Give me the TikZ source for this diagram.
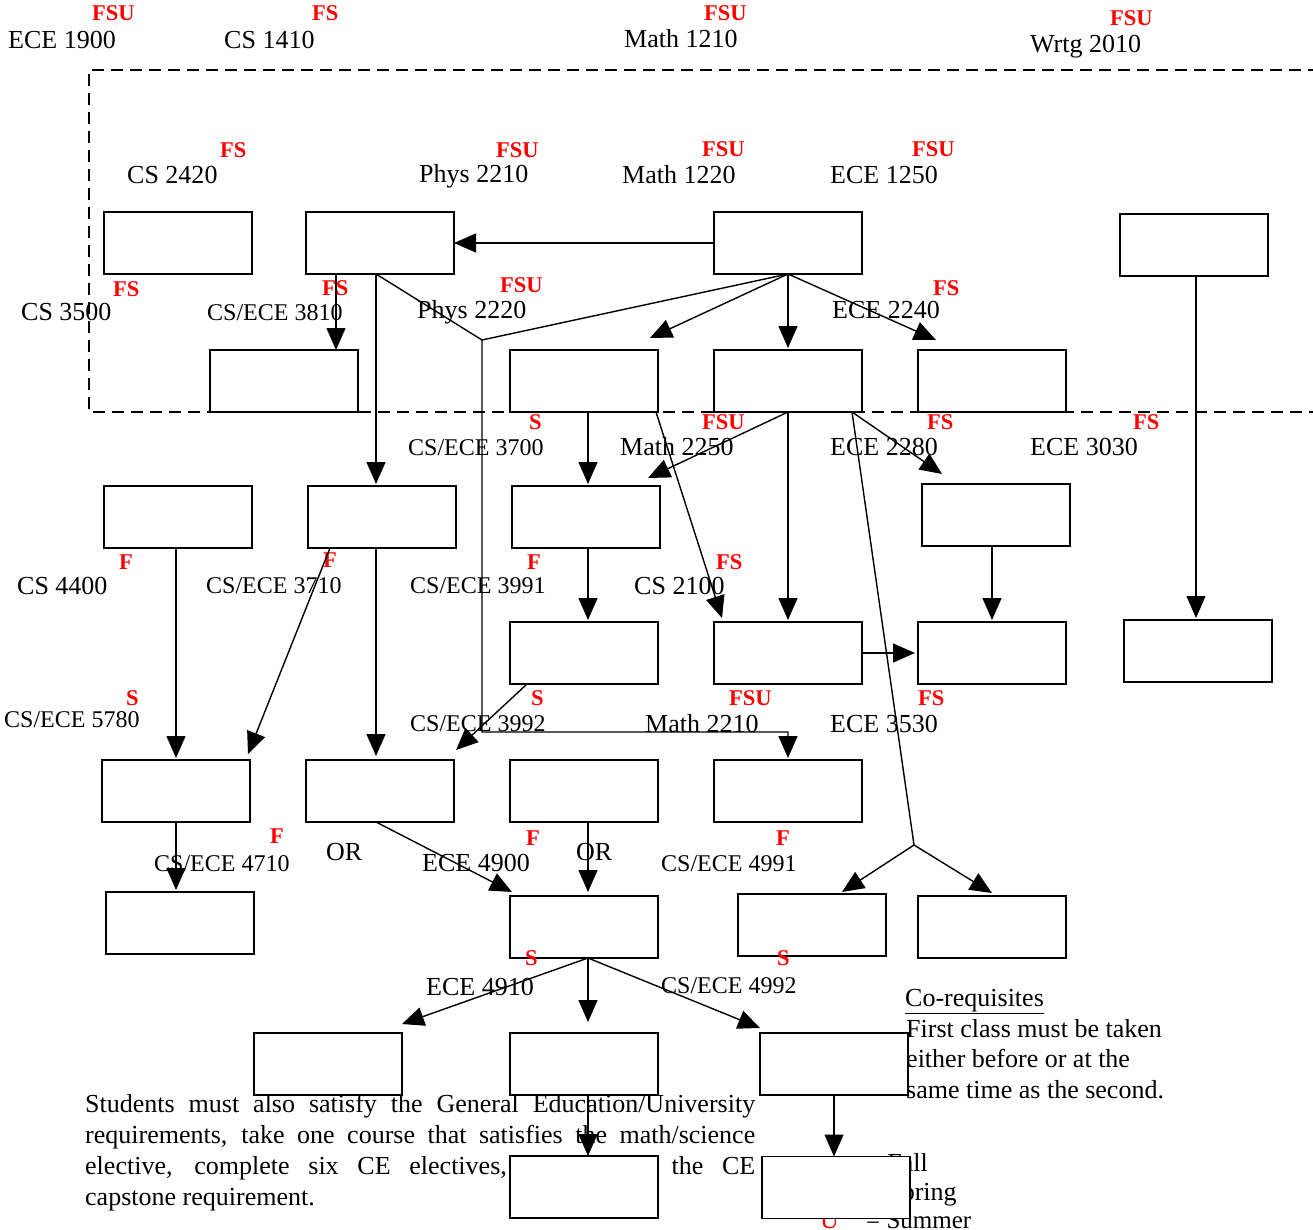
\documentclass[tikz,border=0pt]{standalone}
\usepackage{fontspec}
\setmainfont{Liberation Serif}
\usetikzlibrary{arrows.meta}
\begin{document}
\begin{tikzpicture}[x=1pt,y=-1pt,
 box/.style={draw, line width=1.5pt, fill=white, minimum width=148pt, minimum height=62pt, inner sep=0pt, outer sep=0pt},
 lbl/.style={anchor=base west, inner sep=0pt, font=\fontsize{26}{31}\selectfont},
 slbl/.style={anchor=base west, inner sep=0pt, font=\fontsize{24}{29}\selectfont},
 sem/.style={anchor=base west, inner sep=0pt, text=red, font=\bfseries\fontsize{22.5}{26}\selectfont},
 conn/.style={line width=1.4pt},
 arr/.style={line width=1.4pt, -{Triangle[length=22pt,width=19pt]}},
 frame/.style={line width=1.4pt, dash pattern=on 12pt off 7pt}]
\useasboundingbox (0,0) rectangle (1313,1230);
% dashed frame
\draw[frame] (1320,70) -- (89,70) -- (89,412) -- (1320,412);
% paragraph and legend (partly covered by boxes)
\node[lbl] (p1) at (85,1112) {\makebox[670pt][s]{Students must also satisfy the General Education/University}};
\node[lbl] (p2) at (85,1143) {\makebox[670pt][s]{requirements, take one course that satisfies the math/science}};
\node[lbl] (p3) at (85,1174) {\makebox[670pt][s]{elective, complete six CE electives, and satisfy the CE}};
\node[lbl] (p4) at (85,1205) {capstone requirement.};
\node[sem] (lf) at (824,1175) {F};
\node[lbl] (lf2) at (866,1171) {= Fall};
\node[sem] (ls) at (824,1202) {S};
\node[lbl] (ls2) at (866,1200) {= Spring};
\node[lbl,text=red] (lu) at (820,1228) {U};
\node[lbl,font=\fontsize{25}{30}\selectfont] (lu2) at (866,1228) {= Summer};
\node[lbl] (co) at (905,1006) {\underline{Co-requisites}};
\node[lbl] (c1) at (906,1037) {First class must be taken};
\node[lbl] (c2) at (906,1067) {either before or at the};
\node[lbl] (c3) at (906,1098) {same time as the second.};
% boxes
\node[box] (A) at (178,243) {};
\node[box] (B) at (380,243) {};
\node[box] (C) at (788,243) {};
\node[box] (D) at (1194,245) {};
\node[box] (E) at (284,381) {};
\node[box] (F) at (584,381) {};
\node[box] (G) at (788,381) {};
\node[box] (H) at (992,381) {};
\node[box] (I) at (178,517) {};
\node[box] (J) at (382,517) {};
\node[box] (K) at (586,517) {};
\node[box] (L) at (996,515) {};
\node[box] (M) at (584,653) {};
\node[box] (N) at (788,653) {};
\node[box] (O) at (992,653) {};
\node[box] (P) at (1198,651) {};
\node[box] (Q) at (176,791) {};
\node[box] (R) at (380,791) {};
\node[box] (S) at (584,791) {};
\node[box] (T) at (788,791) {};
\node[box] (U) at (180,923) {};
\node[box] (V) at (584,927) {};
\node[box] (W) at (812,925) {};
\node[box] (X) at (992,927) {};
\node[box] (Y) at (328,1064) {};
\node[box] (Z) at (584,1064) {};
\node[box] (AA) at (834,1064) {};
\node[box] (AB) at (584,1187) {};
\node[box] (AC) at (836,1187.5) {};
% black labels
\node[lbl] (t1) at (8,49) {ECE 1900};
\node[lbl] (t2) at (224,49) {CS 1410};
\node[lbl] (t3) at (624,48) {Math 1210};
\node[lbl] (t4) at (1030,53) {Wrtg 2010};
\node[lbl] (t5) at (127,184) {CS 2420};
\node[lbl] (t6) at (419,183) {Phys 2210};
\node[lbl] (t7) at (622,184) {Math 1220};
\node[lbl] (t8) at (830,184) {ECE 1250};
\node[lbl] (t9) at (21,320) {CS 3500};
\node[slbl] (t10) at (207,320) {CS/ECE 3810};
\node[lbl] (t11) at (417,319) {Phys 2220};
\node[lbl] (t12) at (832,319) {ECE 2240};
\node[slbl] (t13) at (408,455) {CS/ECE 3700};
\node[lbl] (t14) at (620,455) {Math 2250};
\node[lbl] (t15) at (830,455) {ECE 2280};
\node[lbl] (t16) at (1030,455) {ECE 3030};
\node[lbl] (t17) at (17,594) {CS 4400};
\node[slbl] (t18) at (206,593) {CS/ECE 3710};
\node[slbl] (t19) at (410,593) {CS/ECE 3991};
\node[lbl] (t20) at (634,594) {CS 2100};
\node[slbl] (t21) at (4,727) {CS/ECE 5780};
\node[slbl] (t22) at (410,731) {CS/ECE 3992};
\node[lbl] (t23) at (645,732) {Math 2210};
\node[lbl] (t24) at (830,732) {ECE 3530};
\node[slbl] (t25) at (154,871) {CS/ECE 4710};
\node[lbl] (t26) at (326,860) {OR};
\node[lbl] (t27) at (422,871) {ECE 4900};
\node[lbl] (t28) at (576,860) {OR};
\node[slbl] (t29) at (661,871) {CS/ECE 4991};
\node[lbl] (t30) at (426,995) {ECE 4910};
\node[slbl] (t31) at (661,993) {CS/ECE 4992};
% red semester labels
\node[sem] (s1) at (92,21) {FSU};
\node[sem] (s2) at (312,21) {FS};
\node[sem] (s3) at (704,21) {FSU};
\node[sem] (s4) at (1110,26) {FSU};
\node[sem] (s5) at (220,158) {FS};
\node[sem] (s6) at (496,158) {FSU};
\node[sem] (s7) at (702,157) {FSU};
\node[sem] (s8) at (912,157) {FSU};
\node[sem] (s9) at (113,297) {FS};
\node[sem] (s10) at (322,296) {FS};
\node[sem] (s11) at (500,293) {FSU};
\node[sem] (s12) at (933,296) {FS};
\node[sem] (s13) at (529,429) {S};
\node[sem] (s14) at (702,429) {FSU};
\node[sem] (s15) at (927,429) {FS};
\node[sem] (s16) at (1133,429) {FS};
\node[sem] (s17) at (119,569) {F};
\node[sem] (s18) at (323,567) {F};
\node[sem] (s19) at (527,569) {F};
\node[sem] (s20) at (716,569) {FS};
\node[sem] (s21) at (126,705) {S};
\node[sem] (s22) at (531,705) {S};
\node[sem] (s23) at (729,705) {FSU};
\node[sem] (s24) at (918,705) {FS};
\node[sem] (s25) at (270,843) {F};
\node[sem] (s26) at (526,845) {F};
\node[sem] (s27) at (776,845) {F};
\node[sem] (s28) at (525,965) {S};
\node[sem] (s29) at (777,965) {S};
% junction coordinates
\coordinate (jn) at (482,340);
\coordinate (jb) at (482,732);
\coordinate (jc) at (788,732);
\coordinate (sp) at (914,845);
% connectors
\draw[arr] (C.west) -- (B.east);
\draw[arr] ([xshift=-44]B.south) -- ([xshift=52]E.north);
\draw[arr] ([xshift=-4]B.south) -- ([xshift=-6,yshift=2]J.north);
\draw[conn] ([xshift=-4]B.south) -- (jn);
\draw[arr] (C.south) -- (jn) -- (jb) -- (jc) -- ([yshift=2]T.north);
\draw[arr] (C.south) -- ([xshift=-8,yshift=12]F.north east);
\draw[arr] (C.south) -- ([yshift=2]G.north);
\draw[arr] (C.south) -- ([xshift=18,yshift=10]H.north west);
\draw[arr] ([xshift=2]D.south) -- ([xshift=-2,yshift=2]P.north);
\draw[arr] ([xshift=72]F.south) -- ([xshift=8,yshift=4]N.north west);
\draw[arr] ([xshift=4]F.south) -- ([xshift=2,yshift=2]K.north);
\draw[arr] (G.south) -- ([xshift=-12,yshift=8]K.north east);
\draw[arr] (G.south) -- ([yshift=2]N.north);
\draw[arr] ([xshift=64]G.south) -- ([xshift=20,yshift=10]L.north west);
\draw[conn] ([xshift=64]G.south) -- (sp);
\draw[arr] (sp) -- ([xshift=104,yshift=2]W.north west);
\draw[arr] (sp) -- ([yshift=3]X.north);
\draw[arr] ([xshift=2]K.south) -- ([xshift=4,yshift=2]M.north);
\draw[arr] ([xshift=-4]L.south) -- ([yshift=2]O.north);
\draw[arr] (N.east) -- ([xshift=-3]O.west);
\draw[arr] ([xshift=-2]I.south) -- ([yshift=2]Q.north);
\draw[arr] ([xshift=-52]J.south) -- ([xshift=-2,yshift=6]Q.north east);
\draw[arr] ([xshift=-6]J.south) -- ([xshift=-4,yshift=4]R.north);
\draw[arr] ([xshift=-57]M.south) -- ([xshift=2,yshift=10]R.north east);
\draw[arr] (Q.south) -- ([xshift=-4,yshift=2]U.north);
\draw[arr] ([xshift=-4]R.south) -- ([xshift=2,yshift=4]V.north west);
\draw[arr] ([xshift=4]S.south) -- ([xshift=4,yshift=4]V.north);
\draw[arr] ([xshift=4]V.south) -- ([yshift=9]Y.north east);
\draw[arr] ([xshift=4]V.south) -- ([xshift=4,yshift=11]Z.north);
\draw[arr] ([xshift=4]V.south) -- ([yshift=5]AA.north west);
\draw[arr] ([xshift=4]Z.south) -- ([xshift=4]AB.north);
\draw[arr] (AA.south) -- ([xshift=-2]AC.north);
\end{tikzpicture}
\end{document}
